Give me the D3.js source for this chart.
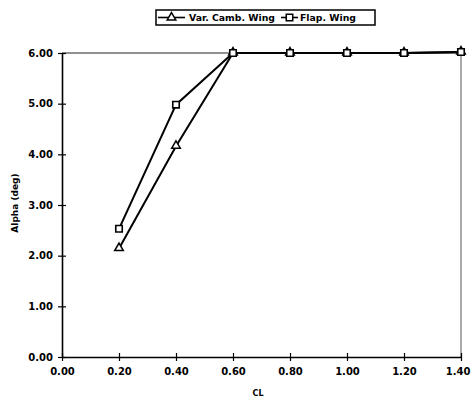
<!DOCTYPE html>
<html>
<head>
<meta charset="utf-8">
<script src="https://cdn.jsdelivr.net/npm/d3@7"></script>
<style>
  html, body { margin: 0; padding: 0; background: #fff; }
  svg text { font-family: "DejaVu Sans", "Liberation Sans", Arial, sans-serif; font-weight: bold; fill: #000; }
</style>
</head>
<body>
<svg id="chart" width="471" height="399"></svg>
<script>
// Lift coefficient values on the x axis
const cl = [0.2, 0.4, 0.6, 0.8, 1.0, 1.2, 1.4];
// Angle of attack (deg) for each wing type
const varCambWing = [2.14, 4.16, 6.0, 6.0, 6.0, 6.0, 6.02];
const flapWing = [2.53, 4.98, 6.0, 6.0, 6.0, 6.0, 6.02];
const seriesNames = ["Var. Camb. Wing", "Flap. Wing"];
const xTicks = [0, 0.2, 0.4, 0.6, 0.8, 1.0, 1.2, 1.4];
const yTicks = [0, 1, 2, 3, 4, 5, 6];

const svg = d3.select("#chart");
const plotLeft = 62, plotRight = 461, plotTop = 53, plotBottom = 357;
const W = 471;

const x = d3.scaleLinear().domain([0, 1.4]).range([plotLeft, plotRight]);
const y = d3.scaleLinear().domain([0, 6]).range([plotBottom, plotTop]);

// plot frame (top and right edges)
svg.append("line").attr("x1", plotLeft).attr("x2", plotRight).attr("y1", plotTop).attr("y2", plotTop)
  .attr("stroke", "#222").attr("stroke-width", 1);
svg.append("line").attr("x1", plotRight).attr("x2", plotRight).attr("y1", plotTop).attr("y2", plotBottom)
  .attr("stroke", "#555").attr("stroke-width", 1);

// axes
const xAxis = d3.axisBottom(x).tickValues(xTicks).tickFormat(d3.format(".2f"))
  .tickSizeInner(4).tickSizeOuter(0).tickPadding(7);
const yAxis = d3.axisLeft(y).tickValues(yTicks).tickFormat(d3.format(".2f"))
  .tickSizeInner(4).tickSizeOuter(0).tickPadding(5);

const gx = svg.append("g").attr("transform", `translate(0,${plotBottom})`).call(xAxis);
const gy = svg.append("g").attr("transform", `translate(${plotLeft},0)`).call(yAxis);

[gx, gy].forEach(g => {
  g.select(".domain").attr("stroke", "#000").attr("stroke-width", 1.6);
  g.selectAll(".tick line").attr("stroke", "#000").attr("stroke-width", 1.2);
  g.selectAll(".tick text").attr("font-size", 10)
    .style("font-family", "'DejaVu Sans', 'Liberation Sans', Arial, sans-serif").style("font-weight", "bold");
});
// ticks cross the axis lines
gx.selectAll(".tick line").attr("y1", -4).attr("y2", 4);
gy.selectAll(".tick line").attr("x1", -4).attr("x2", 4);
gx.selectAll(".tick text").attr("y", 11).attr("dy", "0.71em");
// keep the last x label inside the page edge
gx.selectAll(".tick text").filter(d => d === 1.4)
  .attr("text-anchor", "end").attr("x", W - 1 - plotRight);

// axis titles
svg.append("text").attr("x", 258).attr("y", 396)
  .attr("text-anchor", "middle").attr("font-size", 8).text("CL");
svg.append("text")
  .attr("transform", `translate(18,${(plotTop + plotBottom) / 2 - 2}) rotate(-90)`)
  .attr("text-anchor", "middle").attr("font-size", 9).text("Alpha (deg)");

// series lines
const line = d3.line().x(d => x(d[0])).y(d => y(d[1]));
const data = [varCambWing, flapWing].map(vals => cl.map((c, i) => [c, vals[i]]));

data.forEach(pts => {
  svg.append("path").datum(pts).attr("d", line)
    .attr("fill", "none").attr("stroke", "#000").attr("stroke-width", 2);
});

const tri = d3.symbol().type(d3.symbolTriangle).size(32);
const sq = d3.symbol().type(d3.symbolSquare).size(42);

svg.append("g").selectAll("path").data(data[0]).join("path")
  .attr("d", tri).attr("transform", d => `translate(${x(d[0])},${y(d[1]) - 0.5})`)
  .attr("fill", "#fff").attr("stroke", "#000").attr("stroke-width", 1.5);
svg.append("g").selectAll("path").data(data[1]).join("path")
  .attr("d", sq).attr("transform", d => `translate(${x(d[0])},${y(d[1])})`)
  .attr("fill", "#fff").attr("stroke", "#000").attr("stroke-width", 1.6);

// legend
const lg = svg.append("g");
lg.append("rect").attr("x", 156).attr("y", 10).attr("width", 219).attr("height", 15)
  .attr("fill", "#fff").attr("stroke", "#000").attr("stroke-width", 1.5);
const entries = [
  { x0: 158, x1: 185, sym: tri, tx: 189, name: seriesNames[0] },
  { x0: 281, x1: 298, sym: sq, tx: 300, name: seriesNames[1] }
];
entries.forEach(e => {
  lg.append("line").attr("x1", e.x0).attr("x2", e.x1).attr("y1", 17.5).attr("y2", 17.5)
    .attr("stroke", "#000").attr("stroke-width", 1.6);
  lg.append("path").attr("d", e.sym).attr("transform", `translate(${(e.x0 + e.x1) / 2},17.5)`)
    .attr("fill", "#fff").attr("stroke", "#000").attr("stroke-width", 1.5);
  lg.append("text").attr("x", e.tx).attr("y", 21).attr("font-size", 9.3).text(e.name);
});
</script>
</body>
</html>
